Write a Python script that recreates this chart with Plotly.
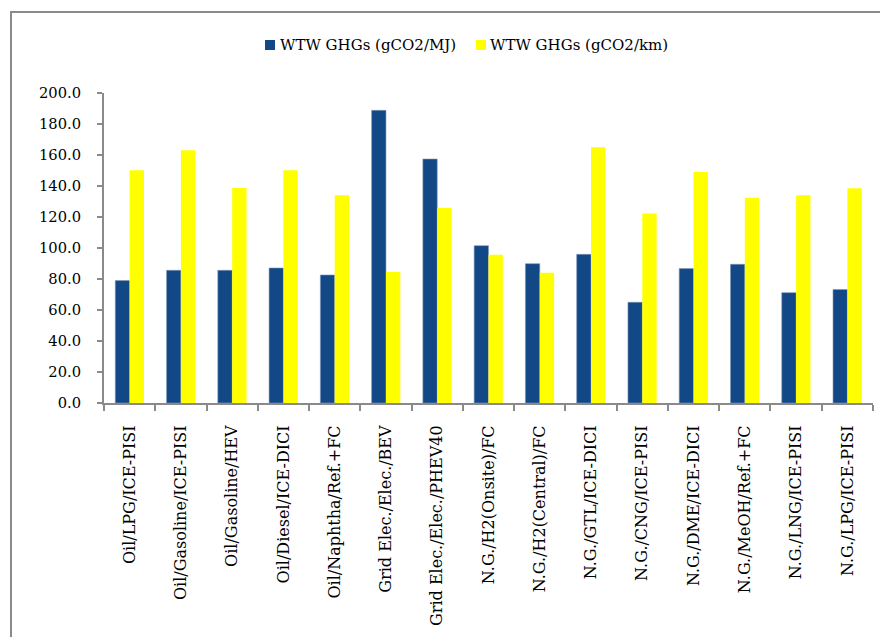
import plotly.graph_objects as go

categories = [
    "Oil/LPG/ICE-PISI", "Oil/Gasoline/ICE-PISI", "Oil/Gasoline/HEV", "Oil/Diesel/ICE-DICI",
    "Oil/Naphtha/Ref.+FC", "Grid Elec./Elec./BEV", "Grid Elec./Elec./PHEV40",
    "N.G./H2(Onsite)/FC", "N.G./H2(Central)/FC", "N.G./GTL/ICE-DICI", "N.G./CNG/ICE-PISI",
    "N.G./DME/ICE-DICI", "N.G./MeOH/Ref.+FC", "N.G./LNG/ICE-PISI", "N.G./LPG/ICE-PISI",
]
ghg_mj = [79.0, 85.6, 85.6, 87.1, 82.6, 188.8, 157.4, 101.5, 89.9, 95.9, 65.0, 86.7, 89.5, 71.2, 73.2]
ghg_km = [150.1, 163.0, 138.7, 150.1, 134.0, 84.5, 125.8, 95.7, 84.1, 165.0, 122.2, 149.0, 132.5, 134.0, 138.5]
series_names = ["WTW GHGs (gCO2/MJ)", "WTW GHGs (gCO2/km)"]
y_ticks = [0, 20, 40, 60, 80, 100, 120, 140, 160, 180, 200]

BLUE = "#124886"
YELLOW = "#FFFF00"
GREY = "#8a8a8a"
FONT = "DejaVu Serif"

fig = go.Figure()
fig.add_trace(go.Bar(x=categories, y=ghg_mj, name=series_names[0],
                     marker=dict(color=BLUE, line=dict(color="#7f97b8", width=0.6))))
fig.add_trace(go.Bar(x=categories, y=ghg_km, name=series_names[1],
                     marker=dict(color=YELLOW, line=dict(width=0))))

# page body has an 8px default margin; compensate so the figure lands on the window
OFF = 8
W, H = 888 - OFF, 637 - OFF
L, R, T, B = 104 - OFF, 15, 93 - OFF, 234
pw, ph = W - L - R, H - T - B


def px2x(px):
    return (px - OFF - L) / pw


def px2y(py):
    return (H - B - (py - OFF)) / ph


shapes = [
    dict(type="rect", xref="paper", yref="paper",
         x0=px2x(11), x1=px2x(905), y0=px2y(660), y1=px2y(12),
         line=dict(color=GREY, width=2), fillcolor="rgba(0,0,0,0)", layer="below"),
    dict(type="rect", xref="paper", yref="paper",
         x0=px2x(265), x1=px2x(275), y0=px2y(50), y1=px2y(40),
         line=dict(width=0), fillcolor=BLUE),
    dict(type="rect", xref="paper", yref="paper",
         x0=px2x(476), x1=px2x(486), y0=px2y(50), y1=px2y(40),
         line=dict(width=0), fillcolor=YELLOW),
]
annotations = [
    dict(xref="paper", yref="paper", x=px2x(278), y=px2y(45), text=series_names[0],
         showarrow=False, xanchor="left", yanchor="middle",
         font=dict(family=FONT, size=15, color="black")),
    dict(xref="paper", yref="paper", x=px2x(488), y=px2y(45), text=series_names[1],
         showarrow=False, xanchor="left", yanchor="middle",
         font=dict(family=FONT, size=15, color="black")),
]

fig.update_layout(
    width=W, height=H,
    margin=dict(l=L, r=R, t=T, b=B, pad=0),
    paper_bgcolor="white", plot_bgcolor="white",
    barmode="group", bargap=0.44, bargroupgap=0,
    showlegend=False,
    shapes=shapes, annotations=annotations,
    font=dict(family=FONT, size=15, color="black"),
)
fig.update_xaxes(
    type="category", tickangle=-90, showgrid=False, automargin=False,
    showline=True, linecolor=GREY, linewidth=2,
    ticks="outside", tickson="boundaries", ticklen=6, tickcolor=GREY, tickwidth=2,
    ticklabelstandoff=14,
    tickfont=dict(family=FONT, size=16, color="black"),
)
fig.update_yaxes(
    range=[0, 200], tickvals=y_ticks, tickformat=".1f", showgrid=False, zeroline=False,
    automargin=False,
    showline=True, linecolor=GREY, linewidth=2,
    ticks="outside", ticklen=5, tickcolor=GREY, tickwidth=2,
    ticklabelstandoff=13,
    tickfont=dict(family=FONT, size=14.7, color="black"),
)

fig.write_html("out.html")
